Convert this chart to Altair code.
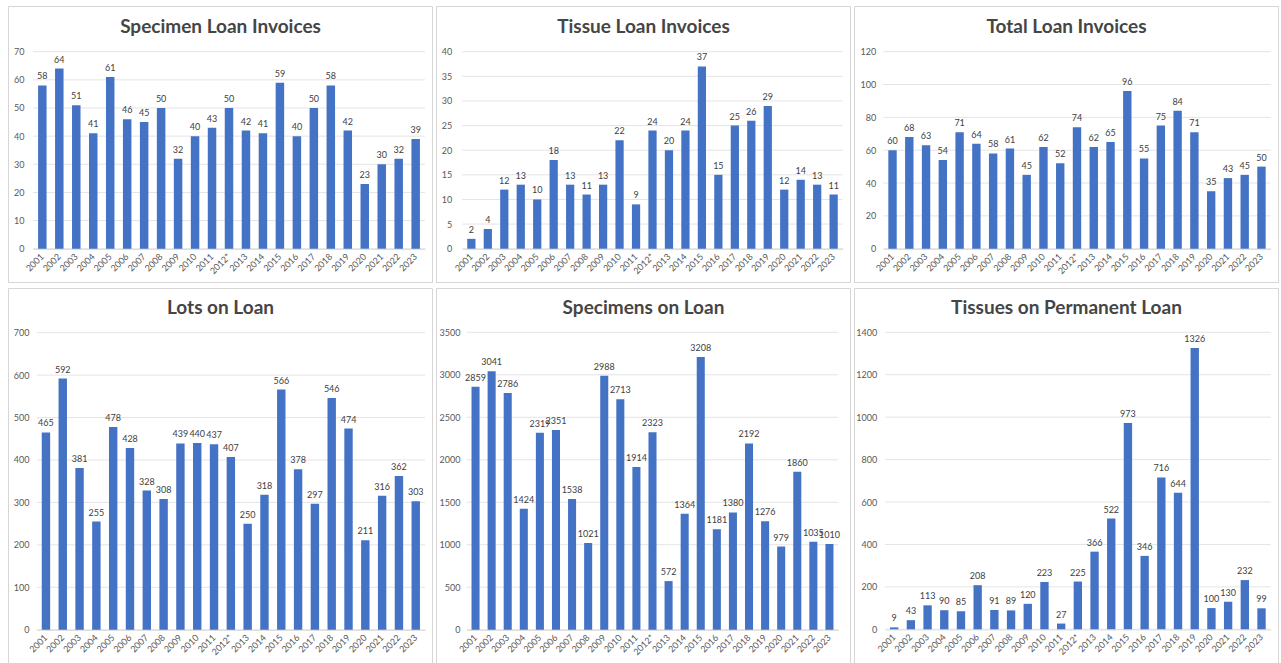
import altair as alt
import pandas as pd

# Fiscal years (2012 carries an asterisk in the source tables)
years = ["2001", "2002", "2003", "2004", "2005", "2006", "2007", "2008", "2009",
         "2010", "2011", "2012*", "2013", "2014", "2015", "2016", "2017", "2018",
         "2019", "2020", "2021", "2022", "2023"]

specimen_loan_invoices = [58, 64, 51, 41, 61, 46, 45, 50, 32, 40, 43, 50, 42, 41,
                          59, 40, 50, 58, 42, 23, 30, 32, 39]
tissue_loan_invoices = [2, 4, 12, 13, 10, 18, 13, 11, 13, 22, 9, 24, 20, 24,
                        37, 15, 25, 26, 29, 12, 14, 13, 11]
total_loan_invoices = [60, 68, 63, 54, 71, 64, 58, 61, 45, 62, 52, 74, 62, 65,
                       96, 55, 75, 84, 71, 35, 43, 45, 50]
lots_on_loan = [465, 592, 381, 255, 478, 428, 328, 308, 439, 440, 437, 407, 250,
                318, 566, 378, 297, 546, 474, 211, 316, 362, 303]
specimens_on_loan = [2859, 3041, 2786, 1424, 2319, 2351, 1538, 1021, 2988, 2713,
                     1914, 2323, 572, 1364, 3208, 1181, 1380, 2192, 1276, 979,
                     1860, 1035, 1010]
tissues_on_permanent_loan = [9, 43, 113, 90, 85, 208, 91, 89, 120, 223, 27, 225,
                             366, 522, 973, 346, 716, 644, 1326, 100, 130, 232, 99]

ticks_specimen_inv = [0, 10, 20, 30, 40, 50, 60, 70]
ticks_tissue_inv = [0, 5, 10, 15, 20, 25, 30, 35, 40]
ticks_total_inv = [0, 20, 40, 60, 80, 100, 120]
ticks_lots = [0, 100, 200, 300, 400, 500, 600, 700]
ticks_specimens = [0, 500, 1000, 1500, 2000, 2500, 3000, 3500]
ticks_tissues = [0, 200, 400, 600, 800, 1000, 1200, 1400]

BAR = "#4472C4"
GRID = "#e4e4e4"
BORDER = "#d6d6d6"
FONT = "Lato"
one = pd.DataFrame({"k": [0]})


def panel(title, values, ticks, w, h, title_y, grid_l, grid_r, top_y, zero_y,
          label_r, closed_bottom=True):
    df = pd.DataFrame({"year": years, "value": values})
    tick_df = pd.DataFrame({"value": ticks})

    y_scale = alt.Scale(domain=[ticks[0], ticks[-1]], range=[zero_y, top_y], nice=False)
    x_scale = alt.Scale(domain=years, range=[grid_l, grid_r],
                        paddingInner=0.5, paddingOuter=0.3)
    y_axis = alt.Axis(values=ticks, offset=-label_r, labelPadding=0, title=None,
                      grid=False, ticks=False, tickSize=0, domain=False, format="d")
    x_axis = alt.Axis(offset=-(h - zero_y), title=None, grid=False, ticks=False,
                      tickSize=0, domain=True, domainColor="#d0d0d0",
                      labelAngle=-45, labelAlign="right", labelBaseline="middle",
                      labelPadding=6, labelOverlap=False, labelBound=False)
    y = alt.Y("value:Q", scale=y_scale, axis=y_axis)
    x = alt.X("year:N", scale=x_scale, axis=x_axis, sort=years)

    grid = alt.Chart(tick_df).mark_rule(color=GRID, strokeWidth=1).encode(
        y=y, x=alt.value(grid_l), x2=alt.value(grid_r))
    bars = alt.Chart(df).mark_bar(color=BAR).encode(x=x, y=y)
    labels = alt.Chart(df).mark_text(
        dy=-4, baseline="bottom", fontSize=9, color="#404040", font=FONT
    ).encode(x=x, y=y, text=alt.Text("value:Q", format="d"))
    head = alt.Chart(pd.DataFrame({"t": [title]})).mark_text(
        font=FONT, fontSize=19, fontWeight="bold", color="#454545",
        baseline="middle", align="center"
    ).encode(text="t:N", x=alt.value(w / 2), y=alt.value(title_y))

    edges = [
        alt.Chart(one).mark_rule(color=BORDER).encode(
            x=alt.value(0.5), y=alt.value(0.5), y2=alt.value(h)),
        alt.Chart(one).mark_rule(color=BORDER).encode(
            x=alt.value(w - 0.5), y=alt.value(0.5), y2=alt.value(h)),
        alt.Chart(one).mark_rule(color=BORDER).encode(
            x=alt.value(0.5), x2=alt.value(w - 0.5), y=alt.value(0.5)),
    ]
    if closed_bottom:
        edges.append(alt.Chart(one).mark_rule(color=BORDER).encode(
            x=alt.value(0.5), x2=alt.value(w - 0.5), y=alt.value(h - 0.5)))

    return alt.layer(grid, bars, labels, head, *edges).properties(width=w, height=h)


TOP_H = 277
BOT_H = 376

p1 = panel("Specimen Loan Invoices", specimen_loan_invoices, ticks_specimen_inv,
           425, TOP_H, 21, 25, 417, 45.7, 242.7, 16)
p2 = panel("Tissue Loan Invoices", tissue_loan_invoices, ticks_tissue_inv,
           415, TOP_H, 21, 26.3, 406.7, 45.7, 242.7, 15.7)
p3 = panel("Total Loan Invoices", total_loan_invoices, ticks_total_inv,
           425, TOP_H, 21, 29.3, 416.7, 45.7, 242.7, 21.7)
p4 = panel("Lots on Loan", lots_on_loan, ticks_lots,
           425, BOT_H, 20, 28.7, 417, 44.7, 341.7, 21, closed_bottom=False)
p5 = panel("Specimens on Loan", specimens_on_loan, ticks_specimens,
           415, BOT_H, 20, 30.7, 402.3, 44.3, 341.7, 24, closed_bottom=False)
p6 = panel("Tissues on Permanent Loan", tissues_on_permanent_loan, ticks_tissues,
           425, BOT_H, 20, 31, 416.7, 44.3, 341.3, 22.7, closed_bottom=False)

chart = alt.vconcat(
    alt.hconcat(p1, p2, p3, spacing=3),
    alt.hconcat(p4, p5, p6, spacing=3),
    spacing=4,
).properties(
    padding={"left": 8, "top": 6, "right": 0, "bottom": 0},
    background="white",
).configure_view(
    stroke=None
).configure_axis(
    labelFont=FONT, labelFontSize=9, labelColor="#595959"
)

chart.save("out.html", embed_options={"renderer": "svg", "actions": False})
